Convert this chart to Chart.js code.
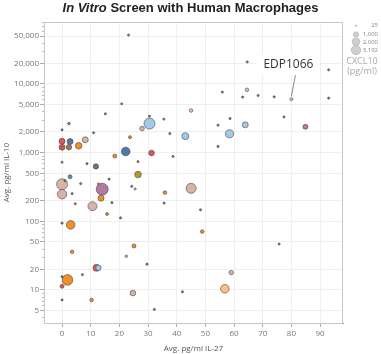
<!DOCTYPE html>
<html>
<head>
<meta charset="utf-8">
<script src="https://cdn.jsdelivr.net/npm/chart.js@4"></script>
<style>
  body { margin: 0; background: #fff; }
  #wrap { position: relative; width: 381px; height: 354px; }
  #title {
    position: absolute; top: 0; left: 0; width: 381px; text-align: center;
    font: bold 13px "Liberation Sans", Arial, sans-serif; color: #222;
  }
</style>
</head>
<body>
<div id="wrap">
  <div id="title"><i>In Vitro</i> Screen with Human Macrophages</div>
  <canvas id="chart" width="381" height="354"></canvas>
</div>
<script>
// Avg. pg/ml IL-27 (x), IL-10 (y), CXCL10 (bubble size), colour group
const il27 = [23.2, 20.8, 15.1, 30.5, 35.5, 2.4, 0, 30.5, 27.9, 43, 37.6, 11, 0, 2.8, 8.1, 0, 0, 2.4, 5.8, 22.2,
  31.2, 23.7, 18.4, 26.5, 38.7, 0, 8.7, 11.8, 64.6, 64.5, 55.9, 63, 68.4, 74, 80, 93, 93, 45, 58.6, 77.4,
  84.9, 54.4, 63.9, 58.4, 54.4, 26.5, 24.3, 25.5, 45, 2.8, 1, 0, 6.5, 16.4, 14, 12.7, 0, 3.5, 13.6, 10.6,
  17.4, 4.6, 15.7, 20.4, 35.9, 35.6, 0, 3, 3.5, 25.1, 22.4, 29.6, 12, 12.7, 7.1, 1.9, 0, 0, 0, 10.3,
  24.7, 42, 32.2, 48.3, 48.9, 75.7, 59, 56.8];
const il10 = [51600, 5140, 3680, 3400, 3080, 2650, 2150, 2650, 2240, 1740, 1900, 1950, 1470, 1450, 1540, 1200, 1200, 1200, 1260, 1040,
  990, 1680, 890, 740, 880, 725, 690, 630, 21000, 8220, 7620, 6450, 6800, 6500, 6000, 16100, 6220, 4110, 3140, 3310,
  2380, 2510, 2540, 1880, 1230, 480, 323, 296, 302, 444, 390, 347, 354, 411, 294, 351, 248, 253, 217, 166,
  187, 180, 128, 112, 262, 184, 94, 88.7, 36, 43.6, 31, 23.7, 21, 21, 16.7, 14, 15.6, 11.3, 7.15, 7.15,
  9.0, 9.4, 5.2, 147, 70.8, 46.7, 17.9, 10.4];
const cxcl10 = [60, 60, 60, 60, 60, 150, 60, 2690, 470, 1090, 60, 60, 800, 800, 800, 800, 60, 650, 970, 1650,
  700, 200, 356, 60, 60, 60, 60, 650, 60, 290, 60, 60, 60, 60, 200, 60, 60, 290, 60, 60,
  560, 60, 800, 1425, 60, 970, 60, 60, 2225, 356, 60, 2690, 60, 60, 3192, 60, 1970, 60, 800, 1800,
  60, 60, 200, 60, 290, 60, 60, 1650, 290, 356, 150, 60, 1090, 650, 60, 2500, 60, 356, 60, 290,
  700, 60, 60, 60, 290, 60, 430, 1650];
const group = ['green', 'green', 'gray', 'red', 'red', 'green', 'gray', 'lightblue', 'lightbrown', 'lightblue', 'blue', 'gray', 'red', 'blue', 'lightbrown', 'red', 'orange', 'brown', 'orange', 'blue',
  'red', 'orange', 'orange', 'red', 'red', 'red', 'gray', 'gray', 'green', 'pink', 'gray', 'gray', 'gray', 'gray', 'pink', 'gray', 'gray', 'pink', 'gray', 'green',
  'purple', 'teal', 'lightblue', 'lightblue', 'gray', 'olive', 'blue', 'lightbrown', 'lightbrown', 'teal', 'gray', 'lightbrown', 'red', 'gray', 'purple', 'orange', 'lightbrown', 'gray', 'orange', 'lightbrown',
  'gray', 'red', 'orange', 'gray', 'orange', 'gray', 'gray', 'orange', 'orange', 'orange', 'lightbrown', 'gray', 'red', 'lightblue', 'teal', 'orange', 'gray', 'red', 'gray', 'orange',
  'lightbrown', 'gray', 'brown', 'gray', 'orange', 'gray', 'lightbrown', 'lightorange'];

const yTicks = [5, 10, 20, 50, 100, 200, 500, 1000, 2000, 5000, 10000, 20000, 50000];
const xTicks = [0, 10, 20, 30, 40, 50, 60, 70, 80, 90];
const legendValues = [25, 1000, 2000, 3192];

const COLORS = {
  lightblue: '#a0cbe8', blue: '#4e79a7', orange: '#f28e2b', lightorange: '#ffbe7d',
  red: '#e15759', brown: '#9d7660', lightbrown: '#d7b5a6', purple: '#b07aa1',
  olive: '#b6992d', gray: '#79706e', teal: '#499894', green: '#59a14f', pink: '#f0b4c6'
};

const bubbleR = v => Math.max(1.1, 0.106 * Math.sqrt(v));

// biggest bubbles first so the small ones stay visible
const points = il27.map((x, i) => ({ x: x, y: il10[i], r: bubbleR(cxcl10[i]), c: COLORS[group[i]] }))
  .sort((a, b) => b.r - a.r);

const FONT = '"Open Sans", sans-serif';

// plot frame, minor log ticks, size legend, EDP1066 callout
const extras = {
  id: 'extras',
  beforeDatasetsDraw(chart) {
    const { ctx, chartArea: a } = chart;
    ctx.save();
    ctx.strokeStyle = '#c8c8c8';
    ctx.lineWidth = 1;
    ctx.strokeRect(a.left + 0.5, a.top + 0.5, a.right - a.left - 1, a.bottom - a.top);
    // minor ticks on the log axis
    const y = chart.scales.y;
    ctx.strokeStyle = '#bbb';
    ctx.beginPath();
    for (let k = 0; k <= 4; k++) {
      for (let m = 2; m <= 9; m++) {
        const v = m * Math.pow(10, k);
        if (v < y.min || v > y.max || yTicks.includes(v)) continue;
        const py = Math.round(y.getPixelForValue(v)) + 0.5;
        ctx.moveTo(a.left - 2, py);
        ctx.lineTo(a.left, py);
      }
    }
    ctx.stroke();
    ctx.restore();
  },
  afterDatasetsDraw(chart) {
    const { ctx, scales } = chart;
    ctx.save();
    // callout
    const px = scales.x.getPixelForValue(80);
    const py = scales.y.getPixelForValue(6000);
    ctx.font = '12px ' + FONT;
    const label = 'EDP1066';
    const w = ctx.measureText(label).width;
    const lx = px - 3, ly = py - 35;
    ctx.fillStyle = '#fff';
    ctx.fillRect(lx - w / 2 - 6, ly - 10, w + 12, 20);
    ctx.fillStyle = '#333';
    ctx.textAlign = 'center';
    ctx.textBaseline = 'middle';
    ctx.fillText(label, lx, ly);
    ctx.strokeStyle = '#666';
    ctx.lineWidth = 0.8;
    ctx.beginPath();
    ctx.moveTo(px + 4, py - 24);
    ctx.lineTo(px, py - 3);
    ctx.stroke();

    // size legend
    const cx = 356;
    const rows = [25.7, 34.5, 41.8, 50];
    legendValues.forEach((v, i) => {
      const r = Math.max(0.8, 0.083 * Math.sqrt(v));
      ctx.beginPath();
      ctx.arc(cx, rows[i], r, 0, Math.PI * 2);
      ctx.fillStyle = '#cfcfcf';
      ctx.fill();
      ctx.strokeStyle = '#aaa';
      ctx.lineWidth = 0.6;
      ctx.stroke();
      ctx.fillStyle = '#888';
      ctx.font = '6px ' + FONT;
      ctx.textAlign = 'right';
      ctx.fillText(v.toLocaleString('en-US'), 378, rows[i]);
    });
    ctx.fillStyle = '#aaa';
    ctx.font = '9px ' + FONT;
    ctx.textAlign = 'center';
    ctx.fillText('CXCL10', 362, 61);
    ctx.fillText('(pg/ml)', 362, 71);
    ctx.restore();
  }
};

new Chart(document.getElementById('chart'), {
  type: 'bubble',
  data: {
    datasets: [{
      data: points,
      backgroundColor: points.map(p => p.c),
      borderColor: 'rgba(70,70,70,0.85)',
      borderWidth: 0.7
    }]
  },
  options: {
    responsive: false,
    animation: false,
    devicePixelRatio: 1,
    layout: { padding: { top: 22, right: 38, left: 0, bottom: 0 } },
    plugins: { legend: { display: false }, tooltip: { enabled: false } },
    scales: {
      x: {
        type: 'linear',
        min: -6.3,
        max: 98,
        afterBuildTicks: s => { s.ticks = xTicks.map(v => ({ value: v })); },
        afterFit: s => { s.height = 31; },
        ticks: { color: '#777', font: { family: FONT, size: 8 }, padding: 2 },
        grid: { color: '#efefef', tickLength: 4, tickColor: '#aaa' },
        border: { color: '#888' },
        title: { display: true, text: 'Avg. pg/ml IL-27', color: '#555', font: { family: FONT, size: 8 }, padding: { top: 1, bottom: 0 } }
      },
      y: {
        type: 'logarithmic',
        min: 3.3,
        max: 80000,
        afterBuildTicks: s => { s.ticks = yTicks.map(v => ({ value: v })); },
        afterFit: s => { s.width = 44; },
        ticks: { color: '#777', font: { family: FONT, size: 8 }, padding: 1, callback: v => v.toLocaleString('en-US') },
        grid: { color: '#efefef', tickLength: 4, tickColor: '#aaa' },
        border: { color: '#888' },
        title: { display: true, text: 'Avg. pg/ml IL-10', color: '#555', font: { family: FONT, size: 8 }, padding: { top: 2, bottom: 0 } }
      }
    }
  },
  plugins: [extras]
});
</script>
</body>
</html>
